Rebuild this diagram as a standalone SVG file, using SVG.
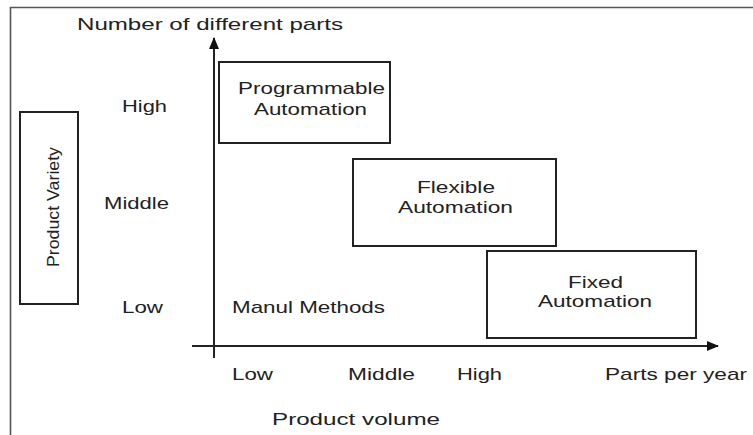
<svg xmlns="http://www.w3.org/2000/svg" width="753" height="435" viewBox="0 0 753 435">
<style>
text{font-family:"Liberation Sans",Arial,sans-serif;font-size:17px;fill:#222;lengthAdjust:spacingAndGlyphs}
.box{fill:none;stroke:#222;stroke-width:2}
.frame{fill:none;stroke:#555;stroke-width:1.6}
.axis{fill:none;stroke:#222;stroke-width:2}
</style>
<defs>
<marker id="ah" viewBox="0 0 12 10" refX="11" refY="5" markerWidth="12" markerHeight="10" markerUnits="userSpaceOnUse" orient="auto">
<path d="M0,0 L12,5 L0,10 z" fill="#111"/>
</marker>
</defs>
<rect width="753" height="435" fill="#fff"/>
<path class="frame" d="M10.5,435 V7.5 H753"/>

<g id="connectors">
<line class="axis" x1="214" y1="358" x2="214" y2="38" marker-end="url(#ah)"/>
<line class="axis" x1="192" y1="346" x2="718" y2="346" marker-end="url(#ah)"/>
</g>

<g id="y-axis-title"><text x="77" y="30" textLength="266" lengthAdjust="spacingAndGlyphs">Number of different parts</text></g>
<g id="x-axis-title"><text x="272" y="425" textLength="168" lengthAdjust="spacingAndGlyphs">Product volume</text></g>

<g id="product-variety">
<rect class="box" x="20" y="112" width="58" height="192"/>
<text transform="translate(59,267) rotate(-90)" textLength="120" lengthAdjust="spacingAndGlyphs">Product Variety</text>
</g>

<g id="y-labels">
<text x="122" y="112" textLength="45" lengthAdjust="spacingAndGlyphs">High</text>
<text x="104" y="209" textLength="65" lengthAdjust="spacingAndGlyphs">Middle</text>
<text x="122" y="313" textLength="41" lengthAdjust="spacingAndGlyphs">Low</text>
</g>

<g id="x-labels">
<text x="232" y="380" textLength="41" lengthAdjust="spacingAndGlyphs">Low</text>
<text x="348" y="380" textLength="67" lengthAdjust="spacingAndGlyphs">Middle</text>
<text x="457" y="380" textLength="45" lengthAdjust="spacingAndGlyphs">High</text>
<text x="605" y="380" textLength="142" lengthAdjust="spacingAndGlyphs">Parts per year</text>
</g>

<g id="programmable-automation">
<rect class="box" x="219" y="62" width="171" height="81"/>
<text x="238" y="94" textLength="147" lengthAdjust="spacingAndGlyphs">Programmable</text>
<text x="254" y="115" textLength="113" lengthAdjust="spacingAndGlyphs">Automation</text>
</g>

<g id="flexible-automation">
<rect class="box" x="353" y="159" width="203" height="87"/>
<text x="417" y="193" textLength="78" lengthAdjust="spacingAndGlyphs">Flexible</text>
<text x="398" y="213" textLength="115" lengthAdjust="spacingAndGlyphs">Automation</text>
</g>

<g id="fixed-automation">
<rect class="box" x="487" y="251" width="209" height="87"/>
<text x="568" y="288" textLength="55" lengthAdjust="spacingAndGlyphs">Fixed</text>
<text x="538" y="307" textLength="114" lengthAdjust="spacingAndGlyphs">Automation</text>
</g>

<g id="manual-methods">
<text x="232" y="313" textLength="153" lengthAdjust="spacingAndGlyphs">Manul Methods</text>
</g>
</svg>
